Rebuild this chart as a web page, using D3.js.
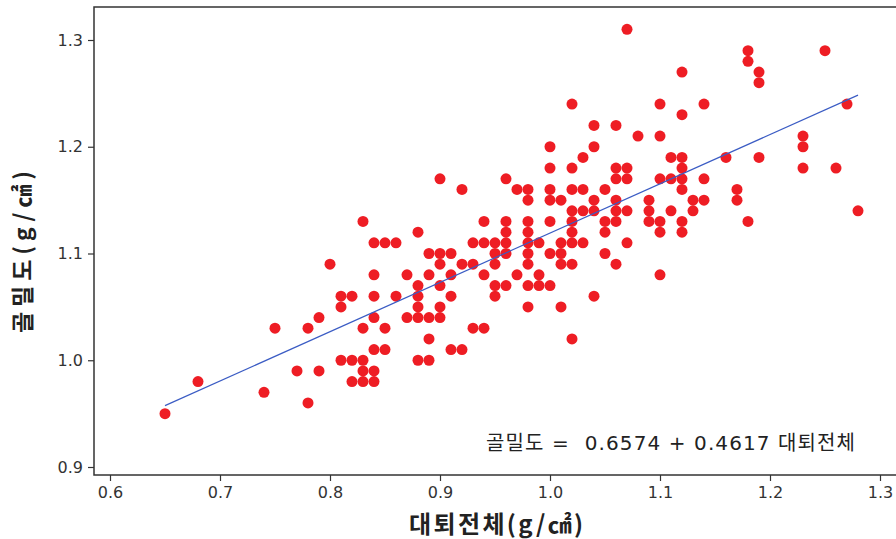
<!DOCTYPE html>
<html><head><meta charset="utf-8">
<script src="https://cdn.jsdelivr.net/npm/d3@7"></script>
<style>
html,body{margin:0;padding:0;background:#fff;}
svg{display:block;}
</style></head>
<body>
<svg id="chart" width="896" height="539"></svg>
<script>
// ---- data ----
const femurColumns = [0.65,0.68,0.74,0.75,0.77,0.78,0.79,0.80,0.81,0.82,0.83,0.84,0.85,0.86,0.87,0.88,0.89,0.90,0.91,0.92,0.93,0.94,0.95,0.96,0.97,0.98,0.99,1.00,1.01,1.02,1.03,1.04,1.05,1.06,1.07,1.08,1.09,1.10,1.11,1.12,1.13,1.14,1.16,1.17,1.18,1.19,1.23,1.25,1.26,1.27,1.28];
const densityByColumn = [
  [0.95],[0.98],[0.97],[1.03],[0.99],[0.96,1.03],[0.99,1.04],[1.09],
  [1.00,1.05,1.06],[0.98,1.00,1.06],[0.98,0.99,1.00,1.03,1.13],
  [0.98,0.99,1.01,1.04,1.06,1.08,1.11],[1.01,1.03,1.11],[1.06,1.11],[1.04,1.08],
  [1.00,1.04,1.05,1.06,1.07,1.12],[1.00,1.02,1.04,1.08,1.10],[1.04,1.05,1.07,1.09,1.10,1.17],
  [1.01,1.06,1.08,1.10],[1.01,1.09,1.16],[1.03,1.09,1.11],[1.03,1.08,1.11,1.13],
  [1.06,1.07,1.09,1.10,1.11],[1.07,1.10,1.11,1.12,1.13,1.17],[1.08,1.16],
  [1.05,1.07,1.09,1.10,1.11,1.12,1.13,1.15,1.16],[1.07,1.08,1.11],
  [1.07,1.10,1.13,1.15,1.16,1.18,1.20],[1.05,1.09,1.10,1.11,1.15],
  [1.02,1.09,1.11,1.12,1.13,1.14,1.16,1.18,1.24],[1.11,1.14,1.16,1.19],
  [1.06,1.14,1.15,1.20,1.22],[1.10,1.12,1.13,1.16],[1.09,1.13,1.14,1.15,1.17,1.18,1.22],
  [1.11,1.14,1.17,1.18,1.31],[1.21],[1.13,1.14,1.15],[1.08,1.12,1.13,1.17,1.21,1.24],
  [1.14,1.17,1.19],[1.12,1.13,1.16,1.17,1.18,1.19,1.23,1.27],[1.14,1.15],[1.15,1.17,1.24],
  [1.19],[1.15,1.16],[1.13,1.28,1.29],[1.19,1.26,1.27],[1.18,1.20,1.21],[1.29],[1.18],[1.24],[1.14]
];
const xTicks = [0.6,0.7,0.8,0.9,1.0,1.1,1.2,1.3];
const yTicks = [0.9,1.0,1.1,1.2,1.3];
const intercept = 0.6574;
const slope = 0.4617;
const xTitle = "대퇴전체(g/㎠)";
const yTitle = "골밀도(g/㎠)";
const equationText = "골밀도 =  0.6574 + 0.4617 대퇴전체";

const points = [];
femurColumns.forEach((fx, i) => densityByColumn[i].forEach(v => points.push({x: fx, y: v})));

// ---- layout ----
const frame = {left: 94, top: 7, right: 897, bottom: 475};
const x = d3.scaleLinear().domain([0.6, 1.3]).range([110, 880]);
const y = d3.scaleLinear().domain([0.9, 1.3]).range([467, 40]);

const svg = d3.select("#chart");
const font = "'DejaVu Sans', 'Noto Sans CJK KR', sans-serif";
const krFont = "'Noto Sans CJK KR', 'DejaVu Sans', sans-serif";

// frame
svg.append("rect")
  .attr("x", frame.left).attr("y", frame.top)
  .attr("width", frame.right - frame.left).attr("height", frame.bottom - frame.top)
  .attr("fill", "none").attr("stroke", "#333").attr("stroke-width", 1.5);

// axes
const xAxis = svg.append("g").attr("transform", `translate(0,${frame.bottom})`)
  .call(d3.axisBottom(x).tickValues(xTicks).tickFormat(d3.format(".1f")).tickSize(6).tickPadding(6));
const yAxis = svg.append("g").attr("transform", `translate(${frame.left},0)`)
  .call(d3.axisLeft(y).tickValues(yTicks).tickFormat(d3.format(".1f")).tickSize(6).tickPadding(5));
[xAxis, yAxis].forEach(g => {
  g.select(".domain").remove();
  g.selectAll(".tick line").attr("stroke", "#333").attr("stroke-width", 1.2);
  g.selectAll(".tick text").attr("fill", "#333").style("font-family", font).style("font-size", "16px");
});

// points
svg.append("g").selectAll("circle").data(points).join("circle")
  .attr("cx", d => x(d.x)).attr("cy", d => y(d.y)).attr("r", 5.5)
  .attr("fill", "#ee1d24");

// regression line
const xMin = d3.min(femurColumns), xMax = d3.max(femurColumns);
svg.append("line")
  .attr("x1", x(xMin)).attr("y1", y(intercept + slope * xMin))
  .attr("x2", x(xMax)).attr("y2", y(intercept + slope * xMax))
  .attr("stroke", "#3b5cc4").attr("stroke-width", 1.2);

// equation
svg.append("text").attr("x", 486).attr("y", 450)
  .style("font-family", font).style("font-size", "20px").attr("fill", "#222")
  .attr("xml:space", "preserve").style("white-space", "pre")
  .attr("textLength", 369).attr("lengthAdjust", "spacing")
  .text(equationText);

// axis titles
svg.append("text").attr("x", 496).attr("y", 533).attr("text-anchor", "middle")
  .style("font-family", krFont).style("font-size", "24px").style("font-weight", "bold").attr("fill", "#222")
  .attr("textLength", 174).attr("lengthAdjust", "spacing")
  .text(xTitle);
svg.append("text").attr("transform", "translate(31,252) rotate(-90)").attr("text-anchor", "middle")
  .style("font-family", krFont).style("font-size", "23px").style("font-weight", "bold").attr("fill", "#222")
  .attr("textLength", 162).attr("lengthAdjust", "spacing")
  .text(yTitle);
</script>
</body></html>
